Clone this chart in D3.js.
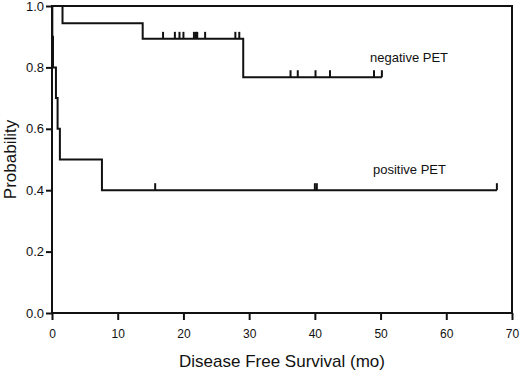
<!DOCTYPE html>
<html>
<head>
<meta charset="utf-8">
<script src="https://cdn.jsdelivr.net/npm/d3@7"></script>
<style>
  body { margin: 0; background: #fff; }
  svg text { font-family: "Liberation Sans", Arial, sans-serif; fill: #111; }
</style>
</head>
<body>
<div id="chart" style="width:520px;height:376px"></div>
<script>
// step curves: [time (mo), survival probability]
const negativeSteps = [[0, 1.0], [1.6, 0.944], [13.8, 0.893], [29.1, 0.768], [50.2, 0.768]];
const negativeCensors = [16.9, 18.7, 19.4, 20.0, 21.6, 21.9, 22.1, 23.3, 27.9, 28.5, 36.3, 37.4, 40.1, 42.3, 49.0, 50.2];
const positiveSteps = [[0, 1.0], [0.05, 0.9], [0.15, 0.8], [0.6, 0.7], [0.85, 0.6], [1.2, 0.5], [7.6, 0.4], [67.7, 0.4]];
const positiveCensors = [15.7, 40.0, 40.3, 67.7];
const xTicks = [0, 10, 20, 30, 40, 50, 60, 70];
const yTicks = [0, 0.2, 0.4, 0.6, 0.8, 1.0];

function drawSurvival(containerId) {
  const width = 520, height = 376;
  const margin = { top: 6, right: 8, bottom: 63, left: 52 };
  const iW = width - margin.left - margin.right;
  const iH = height - margin.top - margin.bottom;

  const svg = d3.select(`#${containerId}`)
    .append("svg")
    .attr("width", width)
    .attr("height", height)
    .append("g")
    .attr("transform", `translate(${margin.left},${margin.top})`);

  const x = d3.scaleLinear().domain([0, 70]).range([0, iW]);
  const y = d3.scaleLinear().domain([0, 1]).range([iH, 0]);

  // frame
  svg.append("rect")
    .attr("x", 0).attr("y", 0)
    .attr("width", iW).attr("height", iH)
    .style("fill", "none")
    .style("stroke", "#111")
    .style("stroke-width", 2);

  svg.append("g")
    .attr("transform", `translate(0, ${iH})`)
    .call(d3.axisBottom(x).tickValues(xTicks).tickSize(7).tickPadding(9).tickFormat(d3.format("d")))
    .call(g => g.select(".domain").remove())
    .call(g => g.selectAll("line").style("stroke", "#111").style("stroke-width", 2))
    .call(g => g.selectAll("text").style("font-size", "12px").style("font-family", "Liberation Sans, Arial, sans-serif"));

  svg.append("g")
    .call(d3.axisLeft(y).tickValues(yTicks).tickSize(6).tickPadding(2).tickFormat(d3.format(".1f")))
    .call(g => g.select(".domain").remove())
    .call(g => g.selectAll("line").style("stroke", "#111").style("stroke-width", 2))
    .call(g => g.selectAll("text").style("font-size", "13px").style("font-family", "Liberation Sans, Arial, sans-serif"));

  const line = d3.line()
    .x(d => x(d[0]))
    .y(d => y(d[1]))
    .curve(d3.curveStepAfter);

  function drawCurve(steps, censors) {
    svg.append("path")
      .datum(steps)
      .attr("d", line)
      .style("fill", "none")
      .style("stroke", "#111")
      .style("stroke-width", 2);

    const level = t => {
      let v = steps[0][1];
      steps.forEach(s => { if (s[0] <= t) v = s[1]; });
      return v;
    };

    svg.selectAll(null)
      .data(censors)
      .join("line")
      .attr("x1", d => x(d)).attr("x2", d => x(d))
      .attr("y1", d => y(level(d)))
      .attr("y2", d => y(level(d)) - 7)
      .style("stroke", "#111")
      .style("stroke-width", 2);
  }

  drawCurve(negativeSteps, negativeCensors);
  drawCurve(positiveSteps, positiveCensors);

  svg.append("text")
    .attr("x", 318).attr("y", 56)
    .style("font-size", "13px")
    .text("negative PET");

  svg.append("text")
    .attr("x", 321).attr("y", 168)
    .style("font-size", "13px")
    .text("positive PET");

  svg.append("text")
    .attr("x", iW / 2)
    .attr("y", iH + 54)
    .style("text-anchor", "middle")
    .style("font-size", "17px")
    .text("Disease Free Survival (mo)");

  svg.append("text")
    .attr("transform", "rotate(-90)")
    .attr("x", -iH / 2)
    .attr("y", -36)
    .style("text-anchor", "middle")
    .style("font-size", "17px")
    .text("Probability");
}

drawSurvival("chart");
</script>
</body>
</html>
